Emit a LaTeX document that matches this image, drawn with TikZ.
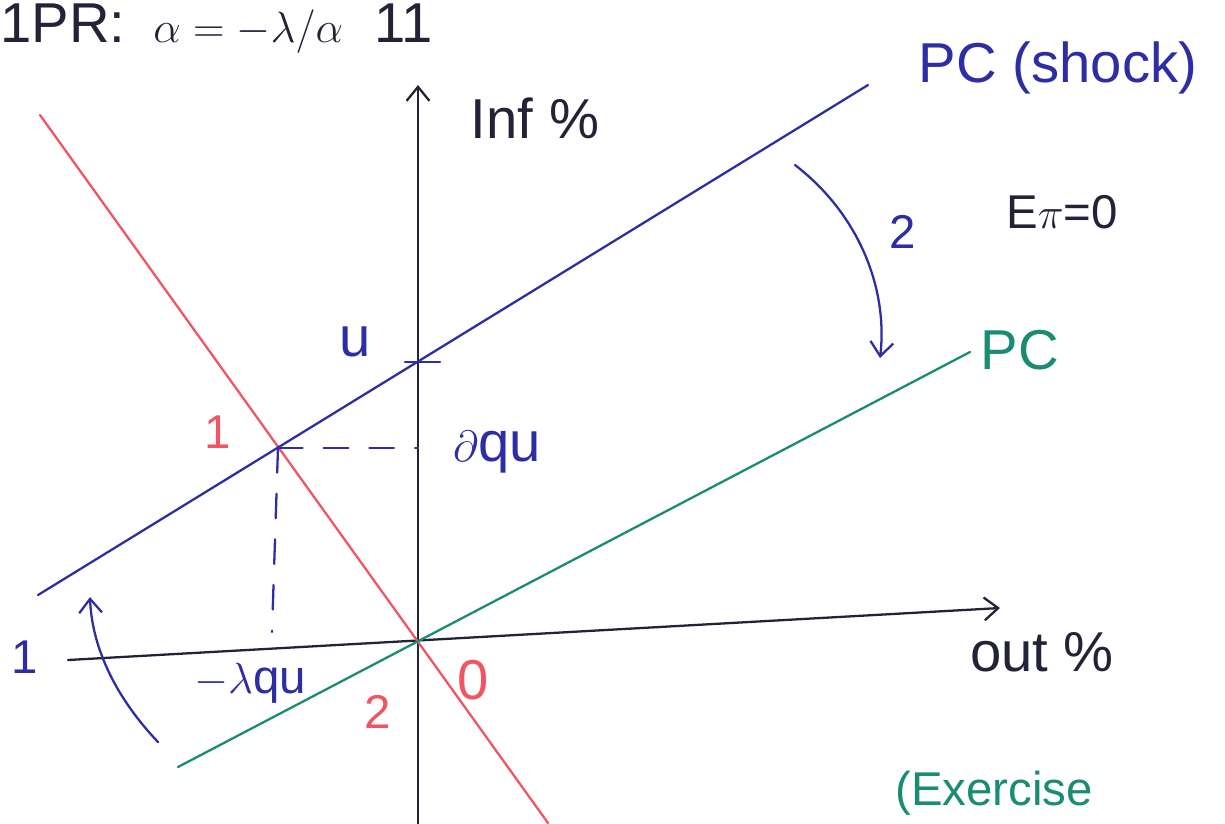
\documentclass[tikz,border=0pt]{standalone}
\usepackage{fontspec}
\setmainfont{Liberation Sans}
\usetikzlibrary{arrows.meta}

\definecolor{penblue}{RGB}{45,45,165}
\definecolor{penred}{RGB}{240,85,100}
\definecolor{pengreen}{RGB}{25,140,115}
\definecolor{penblack}{RGB}{35,35,55}

\begin{document}
\begin{tikzpicture}[x=0.02cm, y=-0.02cm,
    >={Straight Barb[length=8pt, width=13pt]},
    pen/.style={line width=1.3pt, line cap=round},
    hand/.style={font=\fontsize{32}{36}\selectfont, inner sep=0pt},
    small hand/.style={font=\fontsize{27}{32}\selectfont, inner sep=0pt}]
    \useasboundingbox (0,0) rectangle (1225,823);

    % === PUNKTY ===
    \coordinate (O) at (418,638);
    \coordinate (xL) at (68,660);
    \coordinate (xR) at (1000,608);
    \coordinate (yB) at (418,835);
    \coordinate (yT) at (418,85);
    \coordinate (mprT) at (40,115);
    \coordinate (mprB) at (548,823);
    \coordinate (shL) at (38,595);
    \coordinate (shR) at (868,85);
    \coordinate (pcL) at (178,767);
    \coordinate (pcR) at (970,352);
    \coordinate (E1) at (278,448);
    \coordinate (E1y) at (418,448);
    \coordinate (E1x) at (272,632);
    \coordinate (uL) at (405,362);
    \coordinate (uR) at (440,362);

    % === OSIE ===
    \draw[pen, penblack, ->] (xL) -- (xR);
    \draw[pen, penblack, ->] (yB) -- (yT);

    % === MPR (czerwona) ===
    \draw[pen, penred] (mprT) -- (mprB);

    % === PC (shock) i PC ===
    \draw[pen, penblue] (shL) -- (shR);
    \draw[pen, pengreen] (pcL) -- (pcR);

    % === RZUTY PUNKTU 1 ===
    \draw[pen, penblue, dashed, dash pattern=on 14pt off 12pt] (E1) -- (E1y);
    \draw[pen, penblue, dashed, dash pattern=on 14pt off 12pt] (E1) -- (E1x);
    \draw[pen, penblue] (uL) -- (uR);

    % === STRZALKI PRZESUNIEC ===
    \coordinate (s2a) at (795,165);
    \coordinate (s2b) at (880,358);
    \draw[pen, penblue, ->] (s2a) .. controls (860,215) and (888,290) .. (s2b);
    \coordinate (s1a) at (158,742);
    \coordinate (s1b) at (90,597);
    \draw[pen, penblue, ->] (s1a) .. controls (118,700) and (92,650) .. (s1b);

    % === ETYKIETY ===
    \node[hand, penblack, anchor=base west] (title) at (0,42)
        {1PR:\enspace $\alpha = -\lambda/\alpha$ \ 11};
    \node[hand, penblack] (inf) at (535,118) {Inf \%};
    \node[hand, penblack] (out) at (1042,652) {out \%};
    \node[hand, penblue] (shock) at (1058,68) {PC (shock)};
    \node[small hand, penblack] (epi) at (1062,212) {E$\pi$=0};
    \node[small hand, penblue] (two) at (903,232) {2};
    \node[hand, pengreen] (pc) at (1020,350) {PC};
    \node[hand, penblue] (u) at (355,342) {u};
    \node[small hand, penred] (one) at (218,432) {1};
    \node[hand, penblue] (aqu) at (497,452) {$\partial$qu};
    \node[small hand, penblue] (lqu) at (250,683) {$-\lambda$qu};
    \node[small hand, penred] (twob) at (378,712) {2};
    \node[hand, penred] (zero) at (473,680) {0};
    \node[small hand, penblue] (oneb) at (25,657) {1};
    \node[small hand, pengreen, anchor=base west] (ex) at (895,805) {(Exercise};
\end{tikzpicture}
\end{document}
